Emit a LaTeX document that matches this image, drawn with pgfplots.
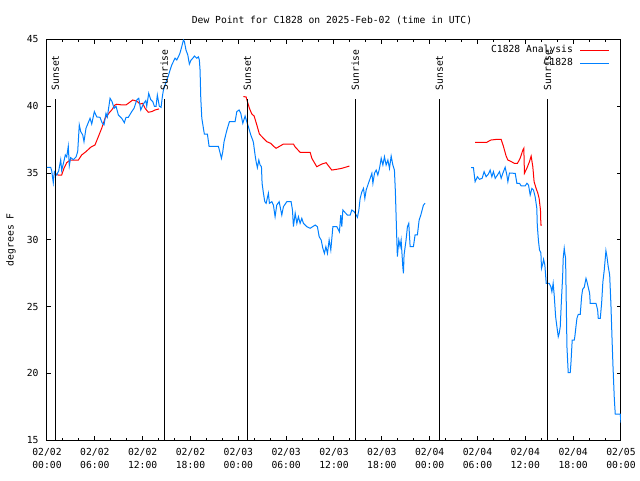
\documentclass[border=0pt]{standalone}
\usepackage{fontspec}
\setmainfont{DejaVu Sans Mono}
\usepackage{pgfplots}
\pgfplotsset{compat=1.18}
\definecolor{anared}{RGB}{255,0,0}
\definecolor{obsblue}{RGB}{0,128,255}
\begin{document}
\fontsize{9.7}{13}\selectfont
\begin{tikzpicture}[x=1pt,y=1pt]
\useasboundingbox (0,0) rectangle (640,480);
\begin{axis}[
  at={(47pt,40pt)}, anchor=south west, scale only axis,
  width=574pt, height=400.5pt,
  xmin=0, xmax=72, ymin=15, ymax=45,
  axis line style={line width=1pt, black},
  tick style={line width=1pt, black},
  tick align=inside,
  major tick length=4pt, minor tick length=2pt,
  xtick={0,6,...,72}, minor x tick num=2,
  xticklabels={{02/02\\00:00},{02/02\\06:00},{02/02\\12:00},{02/02\\18:00},
               {02/03\\00:00},{02/03\\06:00},{02/03\\12:00},{02/03\\18:00},
               {02/04\\00:00},{02/04\\06:00},{02/04\\12:00},{02/04\\18:00},
               {02/05\\00:00}},
  xticklabel style={align=center, font=\fontsize{9.7}{13}\selectfont, yshift=-5pt},
  ytick={15,20,25,30,35,40,45},
  yticklabels={15,20,25,30,35,40,45},
  yticklabel style={xshift=-5pt},
  title={Dew Point for C1828 on 2025-Feb-02 (time in UTC)},
  every axis title/.style={at={(0.5,1)}, anchor=center, yshift=19.5pt, xshift=-2pt},
  ylabel={degrees F},
  every axis y label/.style={at={(-0.0627,0.5)}, rotate=90, anchor=center},
  every axis plot/.append style={line width=1pt},
  legend plot pos=right,
  legend cell align=right,
  legend image code/.code={\draw[#1] (0pt,0pt) -- (29pt,0pt);},
  legend style={at={(0.981,0.985)}, anchor=north east, draw=none, fill=none,
    inner sep=0pt, row sep=4pt, column sep=7pt,
    nodes={inner sep=0pt, text height=7pt, text depth=2pt}},
]
% Analysis (red)
\addplot[anared] coordinates {
(0.92,34.93) (1.42,34.85) (1.84,34.85) (2.13,35.35) (2.47,35.77) (2.89,35.97)
(3.39,35.97) (3.93,35.97) (4.35,36.35) (4.89,36.6) (5.48,36.93) (6.02,37.1)
(6.44,37.72) (6.86,38.35) (7.28,39.1) (7.82,39.52) (8.12,39.72) (8.53,40.1)
(8.75,40.15) (9.37,40.1) (9.91,40.1) (10.20,40.22) (10.75,40.47) (11.04,40.42)
(11.33,40.35) (11.67,40.17) (12.01,40.22) (12.30,39.85) (12.71,39.55) (13.14,39.6)
(13.55,39.72) (14.05,39.8)
};
\addlegendentry{C1828 Analysis}
% observations (blue)
\addplot[obsblue] coordinates {
(0,35.43) (0.46,35.43) (0.59,35.17) (0.79,34.27) (0.92,35.1) (1.22,34.85)
(1.47,35.17) (1.72,36.0) (1.84,35.2) (2.05,35.7) (2.30,36.35) (2.47,36.2)
(2.67,37.0) (2.80,35.55) (2.97,36.15) (3.30,36.0) (3.64,36.2) (3.85,36.6)
(4.05,38.6) (4.23,38.1) (4.48,37.85) (4.64,37.35) (4.89,38.35) (5.06,38.6)
(5.40,39.1) (5.61,38.67) (5.94,39.6) (6.24,39.2) (6.65,39.17) (6.90,38.77)
(7.15,38.6) (7.40,39.47) (7.57,39.2) (7.91,40.6) (8.16,40.35) (8.41,39.85)
(8.66,40.0) (8.95,39.35) (9.37,39.1) (9.70,38.77) (9.91,39.17) (10.20,39.17)
(10.63,39.6) (10.92,39.85) (11.26,40.47) (11.51,40.6) (11.76,39.72) (12.09,40.17)
(12.39,40.42) (12.51,40.0) (12.76,40.97) (13.01,40.5) (13.27,40.35) (13.47,40.0)
(13.68,40.0) (13.84,40.84) (14.09,40.0) (14.31,39.92) (14.47,40.72) (14.60,41.2)
(14.81,41.6) (15.02,41.97) (15.22,42.27) (15.43,42.7) (15.65,43.1) (15.85,43.34)
(16.06,43.6) (16.28,43.47) (16.53,43.76) (16.69,44.0) (16.90,44.46) (17.11,44.96)
(17.23,44.85) (17.44,44.2) (17.66,43.84) (17.86,43.16) (18.07,43.46) (18.29,43.6)
(18.49,43.76) (18.79,43.6) (18.99,43.7) (19.11,43.47) (19.20,42.7) (19.29,40.6)
(19.42,39.1) (19.62,38.35) (19.74,37.92) (20.12,37.92) (20.33,37.0) (21.50,37.0)
(21.71,36.5) (21.88,36.1) (22.05,36.6) (22.21,37.35) (22.46,37.97) (22.63,38.35)
(22.88,38.84) (23.59,38.84) (23.81,39.6) (24.10,39.72) (24.31,39.47) (24.56,38.72)
(24.85,39.27) (25.06,38.84) (25.26,38.47) (25.56,37.85) (25.77,37.52) (25.89,37.3)
(26.10,36.35) (26.23,35.85) (26.39,35.4) (26.57,35.97) (26.73,35.6) (26.90,35.47)
(26.98,34.23) (27.15,33.48) (27.32,32.85) (27.49,32.73) (27.77,33.48) (27.90,32.73)
(28.20,32.85) (28.40,32.6) (28.61,31.73) (28.82,32.6) (29.12,32.85) (29.45,31.85)
(29.66,32.48) (30.08,32.85) (30.62,32.85) (30.79,32.23) (30.91,30.98) (31.13,31.98)
(31.34,31.23) (31.54,31.73) (31.75,31.23) (31.96,31.6) (32.17,31.23) (32.59,30.98)
(33.01,30.86) (33.64,31.1) (33.92,30.98) (34.14,30.23) (34.39,29.98) (34.60,29.36)
(34.80,28.98) (34.98,29.48) (35.18,28.98) (35.39,29.98) (35.60,29.23) (35.86,30.98)
(36.36,30.98) (36.68,30.6) (36.85,31.85) (36.98,30.98) (37.11,32.23) (37.40,32.03)
(37.69,31.85) (38.03,31.85) (38.24,32.23) (38.53,32.1) (38.78,31.85) (38.94,31.68)
(39.12,32.23) (39.28,33.1) (39.50,33.6) (39.70,33.85) (39.87,33.1) (40.04,33.73)
(40.32,34.23) (40.54,34.6) (40.75,34.98) (40.88,34.23) (41.08,34.98) (41.29,35.22)
(41.50,34.85) (41.71,35.35) (41.92,36.1) (42.13,35.6) (42.33,36.22) (42.54,35.6)
(42.76,35.97) (42.96,35.35) (43.17,36.27) (43.38,35.6) (43.58,35.22) (43.70,33.6)
(43.88,29.98) (43.95,28.73) (44.13,29.98) (44.29,29.48) (44.42,29.98) (44.63,27.98)
(44.71,27.49) (44.79,28.86) (45.04,29.98) (45.21,30.98) (45.38,31.23) (45.55,29.48)
(45.96,29.48) (46.17,30.36) (46.46,30.36) (46.68,31.48) (46.89,31.85) (47.22,32.6)
(47.43,32.73)
};
\addlegendentry{C1828}
\addplot[obsblue, forget plot] coordinates {
(53.20,35.4) (53.49,35.4) (53.70,34.35) (53.99,34.72) (54.24,34.53) (54.58,34.6)
(54.83,35.1) (55.08,34.72) (55.37,34.92) (55.59,35.22) (55.80,34.72) (56.00,35.1)
(56.22,34.6) (56.51,34.85) (56.76,35.1) (56.97,34.6) (57.18,34.98) (57.47,35.43)
(57.68,34.85) (57.81,34.35) (58.01,35.0) (58.51,34.98) (58.73,34.98) (58.94,34.23)
(59.27,34.23) (59.48,34.03) (59.98,34.03) (60.20,34.23) (60.40,34.1) (60.61,33.35)
(60.82,33.85) (61.02,33.73) (61.23,33.23) (61.44,32.35) (61.50,31.1) (61.65,29.9)
(61.78,29.23) (61.95,29.03) (62.03,27.86) (62.20,28.23) (62.29,28.53) (62.45,28.1)
(62.62,26.74) (62.99,26.74) (63.20,26.48) (63.33,26.1) (63.49,26.74) (63.62,25.86)
(63.80,24.24) (63.96,23.49) (64.13,22.74) (64.25,22.99) (64.38,23.49) (64.55,25.74)
(64.68,27.23) (64.75,28.61) (64.88,29.36) (64.97,28.93) (65.05,28.61) (65.22,21.99)
(65.38,20.04) (65.63,20.04) (65.72,20.74) (65.88,22.49) (66.14,22.49) (66.22,22.79)
(66.35,23.49) (66.47,24.11) (66.64,24.41) (66.89,24.41) (67.06,25.74) (67.19,26.29)
(67.39,26.44) (67.61,27.11) (67.73,26.86) (67.89,26.44) (68.07,25.99) (68.14,25.24)
(68.86,25.24) (69.07,24.74) (69.15,24.11) (69.40,24.11) (69.57,25.24) (69.73,26.86)
(69.90,27.73) (70.11,29.18) (70.24,28.73) (70.40,27.98) (70.58,27.36) (70.74,25.11)
(70.86,22.87) (70.99,20.62) (71.16,18.12) (71.28,16.93) (71.91,16.93) (72.0,16.3)
};
\addplot[anared, forget plot] coordinates {
(24.64,40.72) (24.97,40.7) (25.14,40.35) (25.39,39.85) (25.69,39.42) (25.98,39.27)
(26.32,38.6) (26.64,37.92) (27.15,37.6) (27.56,37.35) (28.07,37.22) (28.40,37.02)
(28.73,36.85) (29.03,36.95) (29.66,37.17) (30.91,37.17) (31.13,36.95) (31.75,36.55)
(33.01,36.55) (33.22,36.1) (33.84,35.47) (34.47,35.67) (35.01,35.77) (35.72,35.22)
(36.36,35.28) (36.98,35.35) (37.93,35.52)
};
\addplot[anared, forget plot] coordinates {
(53.70,37.3) (55.17,37.3) (55.67,37.47) (56.42,37.52) (56.96,37.52) (57.25,37.0)
(57.59,36.27) (57.81,35.97) (58.09,35.9) (58.63,35.72) (59.01,35.72) (59.35,36.1)
(59.69,36.72) (59.81,36.85) (59.89,34.98) (60.19,35.35) (60.52,35.85) (60.73,36.27)
(60.94,35.47) (61.10,34.35) (61.35,33.85) (61.57,33.48) (61.73,33.1) (61.90,32.23)
(61.95,31.1) (62.07,31.1)
};
% sunrise / sunset markers
\addplot[black, forget plot] coordinates {(1.04,15) (1.04,40.54)};
\addplot[black, forget plot] coordinates {(14.72,15) (14.72,40.54)};
\addplot[black, forget plot] coordinates {(25.13,15) (25.13,40.54)};
\addplot[black, forget plot] coordinates {(38.68,15) (38.68,40.54)};
\addplot[black, forget plot] coordinates {(49.22,15) (49.22,40.54)};
\addplot[black, forget plot] coordinates {(62.77,15) (62.77,40.54)};
\node[rotate=90, anchor=west, inner sep=0pt, xshift=1.5pt] at (axis cs:1.04,41.07) {Sunset};
\node[rotate=90, anchor=west, inner sep=0pt, xshift=1.5pt] at (axis cs:14.72,41.07) {Sunrise};
\node[rotate=90, anchor=west, inner sep=0pt, xshift=1.5pt] at (axis cs:25.13,41.07) {Sunset};
\node[rotate=90, anchor=west, inner sep=0pt, xshift=1.5pt] at (axis cs:38.68,41.07) {Sunrise};
\node[rotate=90, anchor=west, inner sep=0pt, xshift=1.5pt] at (axis cs:49.22,41.07) {Sunset};
\node[rotate=90, anchor=west, inner sep=0pt, xshift=1.5pt] at (axis cs:62.77,41.07) {Sunrise};
\end{axis}
\end{tikzpicture}
\end{document}
